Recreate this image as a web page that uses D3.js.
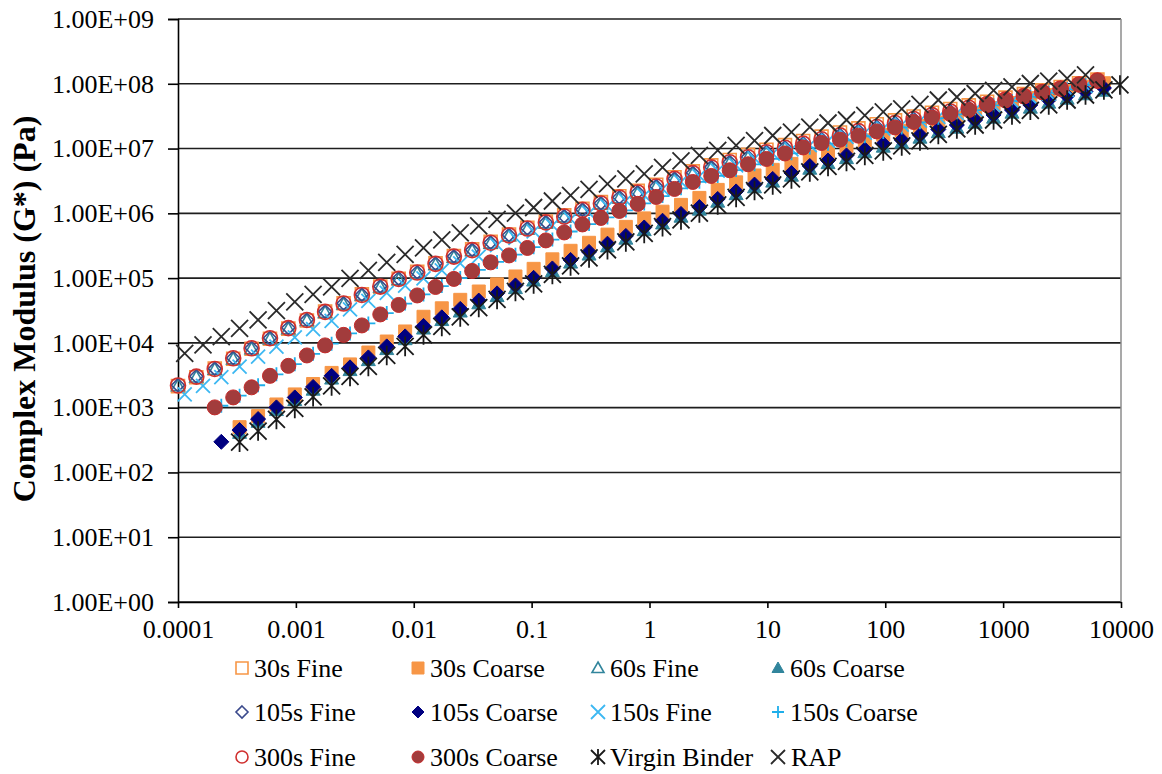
<!DOCTYPE html>
<html>
<head>
<meta charset="utf-8">
<script src="https://cdnjs.cloudflare.com/ajax/libs/d3/7.8.5/d3.min.js"></script>
<style>
  body { margin: 0; background: #fff; }
</style>
</head>
<body>
<svg id="chart" width="1162" height="774"></svg>
<script>
// frequency grids (Hz)
var freqA = [1.00e-4, 1.43e-4, 2.05e-4, 2.94e-4, 4.21e-4, 6.03e-4, 8.63e-4, 1.24e-3, 1.77e-3, 2.54e-3, 3.63e-3, 5.20e-3, 7.45e-3,
  1.07e-2, 1.53e-2, 2.19e-2, 3.13e-2, 4.49e-2, 6.43e-2, 9.20e-2, 0.132, 0.189, 0.270, 0.387, 0.555, 0.794, 1.14, 1.63, 2.33, 3.34,
  4.79, 6.85, 9.82, 14.1, 20.1, 28.8, 41.3, 59.2, 84.7, 121, 174, 249, 356, 511, 731, 1047, 1500, 2148, 3076, 4406, 6310];
var freqB = [1.14e-4, 1.63e-4, 2.33e-4, 3.33e-4, 4.78e-4, 6.84e-4, 9.79e-4, 1.40e-3, 2.01e-3, 2.88e-3, 4.12e-3, 5.90e-3, 8.45e-3,
  1.21e-2, 1.73e-2, 2.48e-2, 3.56e-2, 5.09e-2, 7.29e-2, 0.104, 0.150, 0.214, 0.307, 0.440, 0.630, 0.902, 1.29, 1.85, 2.65, 3.79,
  5.43, 7.78, 11.1, 16.0, 22.9, 32.7, 46.9, 67.1, 96.2, 138, 197, 282, 405, 579, 830, 1189, 1702, 2438, 3491, 5000, 7161, 9800];

// complex modulus G* (Pa)
var g30Fine = [2.15e3, 2.95e3, 4.02e3, 5.70e3, 8.10e3, 1.16e4, 1.66e4, 2.22e4, 3.05e4, 4.10e4, 5.60e4, 7.40e4, 9.80e4, 1.25e5, 1.70e5,
  2.20e5, 2.78e5, 3.62e5, 4.70e5, 6.00e5, 7.50e5, 9.30e5, 1.18e6, 1.49e6, 1.84e6, 2.22e6, 2.76e6, 3.60e6, 4.45e6, 5.50e6, 6.65e6,
  8.00e6, 9.60e6, 1.13e7, 1.31e7, 1.53e7, 1.77e7, 2.05e7, 2.37e7, 2.72e7, 3.13e7, 3.58e7, 4.08e7, 4.64e7, 5.28e7, 6.12e7, 6.92e7,
  7.90e7, 8.90e7, 1.02e8, 1.16e8];
var g30Coarse = [5.00e2, 7.40e2, 1.12e3, 1.60e3, 2.32e3, 3.44e3, 4.65e3, 7.10e3, 1.05e4, 1.50e4, 2.53e4, 3.42e4, 4.62e4, 6.21e4,
  8.02e4, 1.06e5, 1.39e5, 1.95e5, 2.64e5, 3.51e5, 4.69e5, 6.18e5, 8.35e5, 1.06e6, 1.35e6, 1.73e6, 2.30e6, 3.01e6, 3.84e6, 4.69e6,
  5.80e6, 7.42e6, 9.04e6, 1.08e7, 1.34e7, 1.63e7, 1.88e7, 2.24e7, 2.52e7, 2.96e7, 3.53e7, 4.22e7, 5.04e7, 6.03e7, 6.69e7, 7.72e7,
  9.03e7, 1.02e8];
var g60Fine = [2.18e3, 2.96e3, 3.90e3, 5.65e3, 8.10e3, 1.15e4, 1.65e4, 2.21e4, 2.95e4, 3.96e4, 5.45e4, 7.25e4, 9.50e4, 1.20e5, 1.62e5,
  2.10e5, 2.65e5, 3.45e5, 4.48e5, 5.70e5, 7.10e5, 8.75e5, 1.11e6, 1.39e6, 1.72e6, 2.06e6, 2.55e6, 3.33e6, 4.09e6, 5.03e6, 6.03e6,
  7.20e6, 8.60e6, 1.01e7, 1.17e7, 1.36e7, 1.57e7, 1.82e7, 2.11e7, 2.43e7, 2.80e7, 3.21e7, 3.67e7, 4.18e7, 4.78e7, 5.60e7, 6.36e7,
  7.32e7, 8.29e7, 9.55e7, 1.10e8];
var g60Coarse = [4.05e2, 6.00e2, 9.10e2, 1.30e3, 1.88e3, 2.79e3, 3.77e3, 5.37e3, 7.95e3, 1.13e4, 1.65e4, 2.23e4, 3.02e4, 4.05e4,
  5.23e4, 6.94e4, 9.09e4, 1.27e5, 1.72e5, 2.29e5, 3.06e5, 4.03e5, 5.45e5, 6.92e5, 8.81e5, 1.13e6, 1.50e6, 1.96e6, 2.50e6, 3.06e6,
  3.78e6, 4.84e6, 5.90e6, 7.05e6, 8.71e6, 1.06e7, 1.22e7, 1.46e7, 1.77e7, 2.08e7, 2.48e7, 2.97e7, 3.55e7, 4.24e7, 5.06e7, 5.84e7,
  6.83e7, 7.75e7];
var g105Fine = [2.22e3, 3.05e3, 4.00e3, 5.85e3, 8.35e3, 1.19e4, 1.71e4, 2.28e4, 3.04e4, 4.10e4, 5.55e4, 7.45e4, 9.85e4, 1.23e5, 1.68e5,
  2.17e5, 2.73e5, 3.55e5, 4.62e5, 5.88e5, 7.31e5, 9.02e5, 1.14e6, 1.43e6, 1.77e6, 2.12e6, 2.63e6, 3.43e6, 4.21e6, 5.18e6, 6.21e6,
  7.42e6, 8.87e6, 1.04e7, 1.20e7, 1.40e7, 1.62e7, 1.88e7, 2.17e7, 2.50e7, 2.89e7, 3.31e7, 3.78e7, 4.31e7, 4.93e7, 5.78e7, 6.55e7,
  7.54e7, 8.54e7, 9.85e7, 1.13e8];
var g105Coarse = [2.97e2, 4.51e2, 6.67e2, 1.01e3, 1.44e3, 2.09e3, 3.10e3, 4.19e3, 5.97e3, 8.83e3, 1.26e4, 1.83e4, 2.48e4, 3.35e4,
  4.50e4, 5.81e4, 7.71e4, 1.01e5, 1.41e5, 1.91e5, 2.54e5, 3.40e5, 4.48e5, 6.05e5, 7.69e5, 9.79e5, 1.25e6, 1.67e6, 2.18e6, 2.78e6,
  3.40e6, 4.20e6, 5.38e6, 6.55e6, 7.83e6, 9.68e6, 1.18e7, 1.36e7, 1.62e7, 1.97e7, 2.31e7, 2.76e7, 3.30e7, 3.94e7, 4.71e7, 5.62e7,
  6.49e7, 7.59e7, 8.61e7];
var g150Fine = [1.60e3, 2.17e3, 2.95e3, 4.29e3, 6.12e3, 8.75e3, 1.22e4, 1.63e4, 2.18e4, 3.28e4, 4.44e4, 5.92e4, 7.66e4, 9.89e4, 1.32e5,
  1.69e5, 2.15e5, 3.23e5, 4.17e5, 5.27e5, 6.53e5, 8.13e5, 1.02e6, 1.28e6, 1.57e6, 1.90e6, 2.39e6, 3.05e6, 3.76e6, 4.58e6, 5.48e6,
  7.03e6, 8.34e6, 9.73e6, 1.13e7, 1.32e7, 1.52e7, 1.76e7, 2.04e7, 2.35e7, 2.70e7, 3.08e7, 3.52e7, 4.02e7, 4.65e7, 5.38e7, 6.14e7,
  7.01e7, 8.00e7, 9.23e7];
var g150Coarse = [1.07e3, 1.53e3, 2.22e3, 3.27e3, 4.70e3, 6.78e3, 9.72e3, 1.40e4, 2.00e4, 2.89e4, 4.05e4, 5.60e4, 7.53e4, 1.00e5,
  1.34e5, 1.78e5, 2.30e5, 3.00e5, 3.94e5, 5.24e5, 6.82e5, 8.65e5, 1.11e6, 1.42e6, 1.85e6, 2.43e6, 3.07e6, 3.78e6, 4.66e6, 5.71e6,
  6.92e6, 8.45e6, 1.03e7, 1.19e7, 1.34e7, 1.55e7, 1.80e7, 2.12e7, 2.54e7, 2.94e7, 3.36e7, 3.92e7, 4.65e7, 5.42e7, 6.28e7, 7.26e7,
  8.24e7, 9.57e7];
var g300Fine = [2.20e3, 3.01e3, 3.96e3, 5.78e3, 8.26e3, 1.18e4, 1.69e4, 2.26e4, 3.01e4, 4.05e4, 5.50e4, 7.40e4, 9.72e4, 1.22e5, 1.66e5,
  2.15e5, 2.70e5, 3.52e5, 4.57e5, 5.82e5, 7.24e5, 8.93e5, 1.13e6, 1.42e6, 1.75e6, 2.10e6, 2.60e6, 3.40e6, 4.17e6, 5.13e6, 6.15e6,
  7.35e6, 8.78e6, 1.03e7, 1.19e7, 1.39e7, 1.60e7, 1.86e7, 2.15e7, 2.48e7, 2.86e7, 3.28e7, 3.74e7, 4.27e7, 4.88e7, 5.72e7, 6.49e7,
  7.47e7, 8.46e7, 9.75e7, 1.12e8];
var g300Coarse = [1.01e3, 1.44e3, 2.06e3, 3.10e3, 4.42e3, 6.40e3, 9.15e3, 1.33e4, 1.86e4, 2.75e4, 3.85e4, 5.40e4, 7.30e4, 9.72e4,
  1.29e5, 1.75e5, 2.24e5, 2.92e5, 3.82e5, 5.07e5, 6.74e5, 8.49e5, 1.09e6, 1.40e6, 1.79e6, 2.38e6, 3.05e6, 3.78e6, 4.62e6, 5.72e6,
  6.91e6, 8.40e6, 1.04e7, 1.22e7, 1.37e7, 1.58e7, 1.84e7, 2.12e7, 2.57e7, 3.02e7, 3.42e7, 3.94e7, 4.71e7, 5.52e7, 6.37e7, 7.47e7,
  8.37e7, 9.75e7, 1.12e8];
var gVirgin = [2.94e2, 4.35e2, 6.59e2, 9.75e2, 1.47e3, 2.17e3, 3.04e3, 4.34e3, 6.41e3, 8.83e3, 1.33e4, 1.80e4, 2.52e4, 3.51e4, 4.69e4,
  6.24e4, 8.13e4, 1.14e5, 1.54e5, 2.05e5, 2.74e5, 3.62e5, 4.90e5, 6.21e5, 7.91e5, 1.01e6, 1.35e6, 1.76e6, 2.25e6, 2.74e6, 3.40e6,
  4.36e6, 5.30e6, 6.32e6, 7.83e6, 9.18e6, 1.10e7, 1.31e7, 1.65e7, 2.01e7, 2.31e7, 2.76e7, 3.30e7, 3.90e7, 4.71e7, 5.62e7, 6.71e7,
  8.02e7, 9.58e7];
var gRAP = [6.89e3, 9.31e3, 1.25e4, 1.68e4, 2.26e4, 3.14e4, 4.30e4, 5.60e4, 7.31e4, 9.89e4, 1.32e5, 1.75e5, 2.32e5, 2.92e5, 3.89e5,
  4.99e5, 6.40e5, 8.05e5, 1.01e6, 1.23e6, 1.55e6, 1.89e6, 2.34e6, 2.84e6, 3.40e6, 4.06e6, 5.11e6, 6.44e6, 7.83e6, 9.35e6, 1.12e7,
  1.33e7, 1.59e7, 1.80e7, 2.15e7, 2.48e7, 2.76e7, 3.24e7, 3.67e7, 4.11e7, 4.80e7, 5.62e7, 6.25e7, 7.08e7, 7.88e7, 8.93e7, 1.01e8,
  1.10e8, 1.21e8, 1.37e8];

var yTickVals = [1e0, 1e1, 1e2, 1e3, 1e4, 1e5, 1e6, 1e7, 1e8, 1e9];
var yTickLabels = ['1.00E+00', '1.00E+01', '1.00E+02', '1.00E+03', '1.00E+04', '1.00E+05', '1.00E+06', '1.00E+07', '1.00E+08', '1.00E+09'];
var xTickVals = [1e-4, 1e-3, 1e-2, 1e-1, 1, 10, 100, 1000, 10000];
var xTickLabels = ['0.0001', '0.001', '0.01', '0.1', '1', '10', '100', '1000', '10000'];

var serif = '"Liberation Serif", "Times New Roman", Times, "DejaVu Serif", serif';

// series in legend / drawing order
var seriesList = [
  { name: '30s Fine', freq: freqA, from: 0, vals: g30Fine, shape: 'square', color: '#F79646', filled: false, h: 6.5 },
  { name: '30s Coarse', freq: freqB, from: 3, vals: g30Coarse, shape: 'square', color: '#F79646', filled: true, h: 6.5 },
  { name: '60s Fine', freq: freqA, from: 0, vals: g60Fine, shape: 'triangle', color: '#31859C', filled: false, h: 6.5 },
  { name: '60s Coarse', freq: freqB, from: 3, vals: g60Coarse, shape: 'triangle', color: '#31859C', filled: true, h: 7 },
  { name: '105s Fine', freq: freqA, from: 0, vals: g105Fine, shape: 'diamond', color: '#3B4A8C', filled: false, h: 6.5 },
  { name: '105s Coarse', freq: freqB, from: 2, vals: g105Coarse, shape: 'diamond', color: '#000080', filled: true, h: 7.5 },
  { name: '150s Fine', freq: freqB, from: 0, vals: g150Fine, shape: 'times', color: '#3DB8F2', filled: false, h: 7 },
  { name: '150s Coarse', freq: freqB, from: 2, vals: g150Coarse, shape: 'plus', color: '#1FAEEA', filled: false, h: 7 },
  { name: '300s Fine', freq: freqA, from: 0, vals: g300Fine, shape: 'circle', color: '#D0302F', filled: false, h: 7.5 },
  { name: '300s Coarse', freq: freqA, from: 2, vals: g300Coarse, shape: 'circle', color: '#C52A2A', fillColor: '#A23C3C', filled: true, h: 7.5 },
  { name: 'Virgin Binder', freq: freqB, from: 3, vals: gVirgin, shape: 'asterisk', color: '#1a1a1a', filled: false, h: 8.5 },
  { name: 'RAP', freq: freqB, from: 0, vals: gRAP, shape: 'times', color: '#2a2a2a', filled: false, h: 8.5 }
];

var markerPath = (shape, h) => {
  if (shape === 'square') return 'M' + (-h) + ',' + (-h) + 'H' + h + 'V' + h + 'H' + (-h) + 'Z';
  if (shape === 'triangle') return 'M0,' + (-h) + 'L' + h + ',' + (h * 0.75) + 'L' + (-h) + ',' + (h * 0.75) + 'Z';
  if (shape === 'diamond') return 'M0,' + (-h) + 'L' + h + ',0L0,' + h + 'L' + (-h) + ',0Z';
  if (shape === 'circle') return 'M' + h + ',0A' + h + ',' + h + ' 0 1,1 ' + (-h) + ',0A' + h + ',' + h + ' 0 1,1 ' + h + ',0Z';
  if (shape === 'times') return 'M' + (-h) + ',' + (-h) + 'L' + h + ',' + h + 'M' + (-h) + ',' + h + 'L' + h + ',' + (-h);
  if (shape === 'plus') return 'M' + (-h) + ',0H' + h + 'M0,' + (-h) + 'V' + h;
  // asterisk: an x with a vertical bar through it
  return 'M' + (-h) + ',' + (-h) + 'L' + h + ',' + h + 'M' + (-h) + ',' + h + 'L' + h + ',' + (-h) + 'M0,' + (-h * 1.15) + 'V' + (h * 1.15);
};

var styleMarker = (sel, s) => {
  var isLine = s.shape === 'times' || s.shape === 'plus' || s.shape === 'asterisk';
  sel.attr('fill', s.filled ? (s.fillColor || s.color) : 'none')
    .attr('stroke', s.color)
    .attr('stroke-width', isLine ? 1.8 : (s.filled ? 1 : 1.6));
};

var main = () => {
  var svg = d3.select('#chart');
  var x = d3.scaleLog().domain([1e-4, 1e4]).range([178, 1121]);
  var y = d3.scaleLog().domain([1, 1e9]).range([602, 19]);

  // horizontal gridlines
  svg.append('g').selectAll('line').data(yTickVals).enter().append('line')
    .attr('x1', x(1e-4)).attr('x2', x(1e4))
    .attr('y1', (d) => y(d)).attr('y2', (d) => y(d))
    .attr('stroke', '#1e1e1e').attr('stroke-width', 1.6);

  // right border
  svg.append('line').attr('x1', x(1e4)).attr('x2', x(1e4)).attr('y1', y(1e9)).attr('y2', y(1))
    .attr('stroke', '#8c8c8c').attr('stroke-width', 1.5);

  var yAxis = svg.append('g').attr('transform', 'translate(' + x(1e-4) + ',0)')
    .call(d3.axisLeft(y).tickValues(yTickVals).tickFormat((d, i) => yTickLabels[i]).tickSize(10).tickPadding(14));
  yAxis.attr('font-family', null);
  yAxis.selectAll('text').attr('font-family', serif).style('font-family', serif).style('font-size', '26px');
  yAxis.selectAll('line, path').attr('stroke', '#000').attr('stroke-width', 1.6);

  var xAxis = svg.append('g').attr('transform', 'translate(0,' + y(1) + ')')
    .call(d3.axisBottom(x).tickValues(xTickVals).tickFormat((d, i) => xTickLabels[i]).tickSize(6).tickSizeOuter(0).tickPadding(12));
  xAxis.attr('font-family', null);
  xAxis.selectAll('text').attr('font-family', serif).style('font-family', serif).style('font-size', '26px');
  xAxis.selectAll('line, path').attr('stroke', '#000').attr('stroke-width', 1.6);

  // y axis title
  svg.append('text').attr('transform', 'translate(35,309) rotate(-90)')
    .attr('text-anchor', 'middle').style('font-family', serif).style('font-size', '32px').style('font-weight', 'bold')
    .text('Complex Modulus (G*) (Pa)');

  // data markers
  seriesList.forEach((s) => {
    var pts = s.vals.map((v, i) => ({ f: s.freq[s.from + i], g: v }));
    svg.append('g').attr('class', 'series').selectAll('path').data(pts).enter().append('path')
      .attr('d', markerPath(s.shape, s.h))
      .attr('transform', (d) => 'translate(' + x(d.f) + ',' + y(d.g) + ')')
      .call(styleMarker, s);
  });

  // legend, 4 columns x 3 rows
  var colX = [242, 418, 598, 778];
  var rowY = [668, 712, 757];
  var legend = svg.append('g').selectAll('g').data(seriesList).enter().append('g')
    .attr('transform', (d, i) => 'translate(' + colX[i % 4] + ',' + rowY[Math.floor(i / 4)] + ')');
  legend.append('path').attr('d', (d) => markerPath(d.shape, d.shape === 'times' || d.shape === 'asterisk' ? 7 : 6))
    .each(function (d) { d3.select(this).call(styleMarker, d); });
  legend.append('text').attr('x', (d) => d.name === 'RAP' ? 13 : 12).attr('y', 9)
    .style('font-family', serif).style('font-size', '26px').text((d) => d.name);
};

main();
</script>
</body>
</html>
